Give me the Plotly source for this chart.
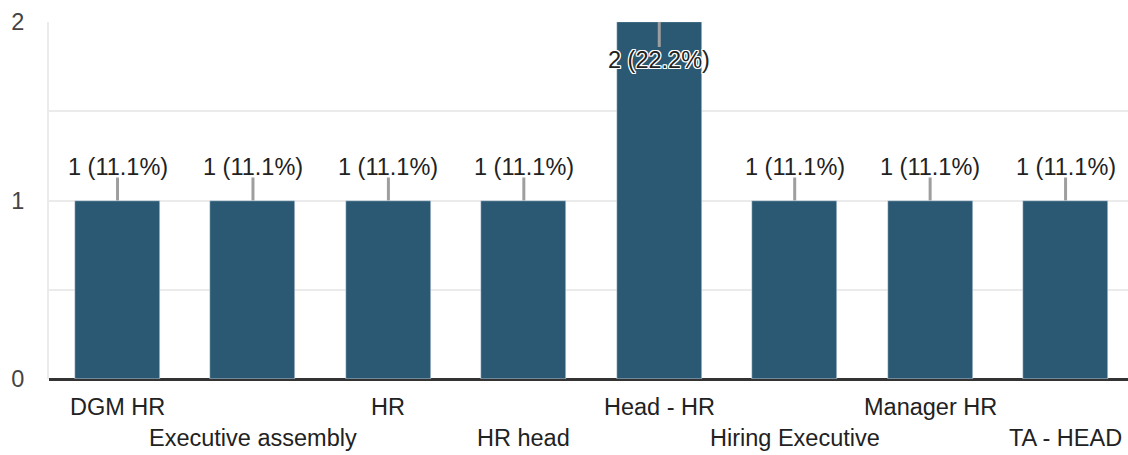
import plotly.graph_objects as go

categories = ["DGM HR", "Executive assembly", "HR", "HR head", "Head - HR",
              "Hiring Executive", "Manager HR", "TA - HEAD"]
counts = [1, 1, 1, 1, 2, 1, 1, 1]
total = sum(counts)
labels = [f"{c} ({c / total * 100:.1f}%)" for c in counts]
ymax = 2

BAR = "#2b5873"
FONT = "Arial, Liberation Sans, sans-serif"
FS = 23.5

x = list(range(len(categories)))
fig = go.Figure(go.Bar(x=x, y=counts, marker_color=BAR, width=0.628,
                       hoverinfo="skip"))

halo = ", ".join(f"{dx}px {dy}px 0 #fff" for dx in (-1, 0, 1) for dy in (-1, 0, 1))
annotations = []
shapes = []
for i, (c, lab) in enumerate(zip(counts, labels)):
    inside = c >= ymax
    annotations.append(dict(
        x=i, y=c, xref="x", yref="y", text=lab, showarrow=False,
        yanchor="middle", yshift=-38 if inside else 34,
        font=dict(family=FONT, size=FS, color="#222222",
                  shadow=halo if inside else "none"),
    ))
    shapes.append(dict(
        type="line", xref="x", yref="y", ysizemode="pixel", yanchor=c,
        x0=i, x1=i, y0=0, y1=-25 if inside else 23,
        line=dict(color="#9e9e9e", width=3), layer="above",
    ))
    annotations.append(dict(
        x=i, y=0, xref="x", yref="paper", yanchor="middle",
        yshift=-28 if i % 2 == 0 else -59, text=categories[i], showarrow=False,
        font=dict(family=FONT, size=FS, color="#222222"),
    ))

fig.update_layout(
    width=1128, height=455,
    margin=dict(l=49, r=0, t=22, b=76),
    paper_bgcolor="white", plot_bgcolor="white",
    showlegend=False, bargap=0,
    annotations=annotations, shapes=shapes,
    xaxis=dict(range=[-0.506, 7.461], showticklabels=False, showgrid=False,
               zeroline=False, showline=False, fixedrange=True),
    yaxis=dict(range=[0, ymax], tickvals=[0, 0.5, 1, 1.5, 2],
               ticktext=["0", "", "1", "", "2"],
               showgrid=True, gridcolor="#ebebeb", gridwidth=2,
               zeroline=True, zerolinecolor="#333333", zerolinewidth=3,
               showline=True, linecolor="#ebebeb", linewidth=2,
               ticks="", ticklabelstandoff=18,
               tickfont=dict(family=FONT, size=FS, color="#444444")),
)

fig.write_html("out.html", config={"displayModeBar": False},
               post_script="document.body.style.margin='0';document.body.style.overflow='hidden';")
